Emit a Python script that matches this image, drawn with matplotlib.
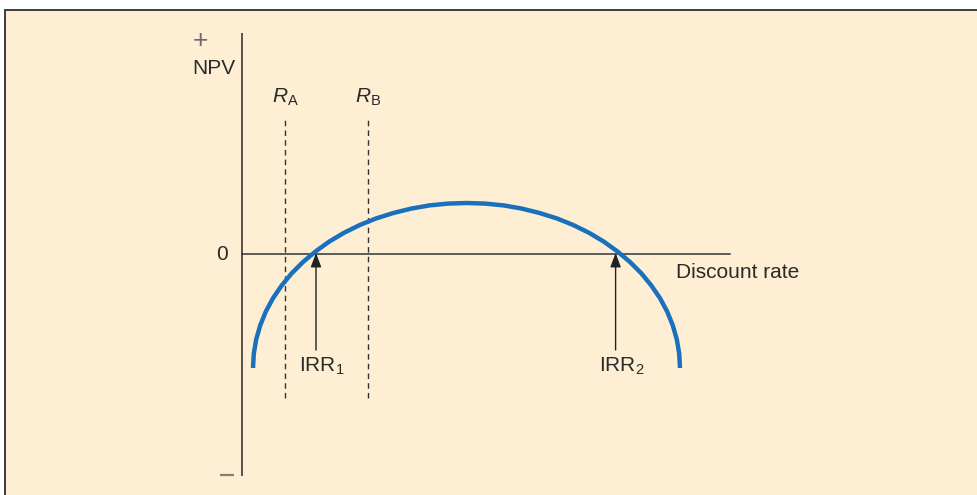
import matplotlib
matplotlib.use("Agg")
import matplotlib.pyplot as plt
from matplotlib.patches import Rectangle

plt.rcParams['font.family'] = ['Liberation Sans', 'DejaVu Sans']
plt.rcParams['mathtext.fontset'] = 'custom'
plt.rcParams['mathtext.rm'] = 'Liberation Sans'
plt.rcParams['mathtext.it'] = 'Liberation Sans:italic'

# Data (discount rate units, NPV units)
curve_rate = [0.55, 0.59, 0.71, 0.91, 1.19, 1.55, 1.98, 2.48, 3.05, 3.68,
              4.36, 5.10, 5.89, 6.71, 7.57, 8.46, 9.37, 10.29, 11.23,
              12.16, 13.08, 13.99, 14.88, 15.74, 16.56, 17.35, 18.09, 18.77,
              19.40, 19.97, 20.47, 20.90, 21.26, 21.54, 21.74, 21.86, 21.90]
curve_npv = [-5.70, -4.98, -4.27, -3.57, -2.88, -2.21, -1.58, -0.97, -0.40, 0.13,
             0.62, 1.06, 1.45, 1.78, 2.05, 2.27, 2.43, 2.52, 2.55,
             2.52, 2.43, 2.27, 2.05, 1.78, 1.45, 1.06, 0.62, 0.13,
             -0.40, -0.97, -1.58, -2.21, -2.88, -3.57, -4.27, -4.98, -5.70]
R_A = 2.15
R_B = 6.30
IRR_1 = 3.70
IRR_2 = 18.68
rate_max = 24.4
npv_top, npv_bottom = 11.05, -11.1
dash_top, dash_bottom = 6.8, -7.2
arrow_base = -4.8

fig = plt.figure(figsize=(9.78, 4.95), dpi=100)
fig.patch.set_facecolor('white')
fig.patches.append(Rectangle((5, -10), 1000, 495, transform=None,
                             facecolor='#FEEFD4', edgecolor='#2e2e2e', lw=1.3, zorder=-5))
ax = fig.add_axes([0, 0, 1, 1])
ax.set_facecolor('none')
ax.set_zorder(1)
ax.set_xlim(-12.1, 36.8)
ax.set_ylim(-12.05, 12.7)
ax.axis('off')

ink = '#333333'
# axes
ax.plot([0, 0], [npv_bottom, npv_top], color='#5a5048', lw=1.4, solid_capstyle='butt')
ax.plot([0, rate_max], [0, 0], color=ink, lw=1.1)

# dashed lines
for r in (R_A, R_B):
    ax.plot([r, r], [dash_bottom, dash_top], color=ink, lw=1.0, ls=(0, (4, 3)))

# curve
ax.plot(curve_rate, curve_npv, color='#1B70BD', lw=3.2, solid_capstyle='butt',
        solid_joinstyle='round', zorder=5)

# arrows
for r in (IRR_1, IRR_2):
    ax.annotate('', xy=(r, 0.05), xytext=(r, arrow_base),
                arrowprops=dict(arrowstyle='-|>,head_length=0.85,head_width=0.32',
                                color='#222222', lw=1.0, shrinkA=0, shrinkB=0), zorder=6)

fs = 15
tc = '#2a2a2a'
ax.text(-2.1, 10.65, '+', fontsize=19, color='#6a6a6a', ha='center', va='center')
ax.text(-1.43, 9.3, 'NPV', fontsize=fs, color=tc, ha='center', va='center')
ax.text(-0.7, 0, '0', fontsize=fs, color=tc, ha='right', va='center')
ax.plot([-1.1, -0.4], [-11.05, -11.05], color='#8a7d6e', lw=1.6, solid_capstyle='butt')
ax.text(R_A, 7.85, r'$R_{\mathrm{A}}$', fontsize=fs, color=tc, ha='center', va='center')
ax.text(R_B, 7.85, r'$R_{\mathrm{B}}$', fontsize=fs, color=tc, ha='center', va='center')
ax.text(IRR_1 + 0.3, -5.6, r'IRR$_{1}$', fontsize=fs, color=tc, ha='center', va='center')
ax.text(IRR_2 + 0.3, -5.6, r'IRR$_{2}$', fontsize=fs, color=tc, ha='center', va='center')
ax.text(21.7, -0.9, 'Discount rate', fontsize=fs, color=tc, ha='left', va='center')

fig.savefig('out.png', dpi=100, facecolor='white')
